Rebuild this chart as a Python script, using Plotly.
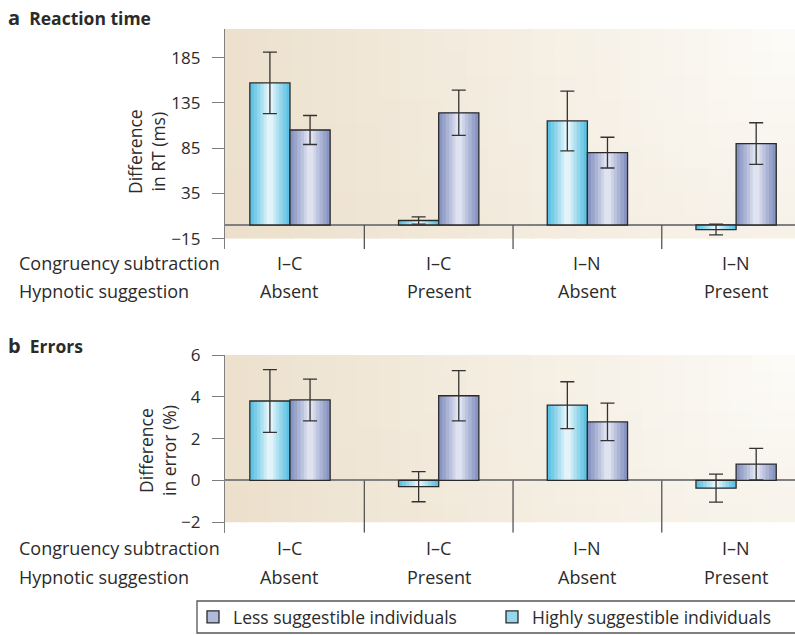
import math
import plotly.graph_objects as go

# ---------------- data ----------------
subtraction = ["I–C", "I–C", "I–N", "I–N"]
suggestion = ["Absent", "Present", "Absent", "Present"]
series_names = ["Less suggestible individuals", "Highly suggestible individuals"]

rt_highly = [157, 5, 115, -5]
rt_highly_err = [34, 4, 33, 6]
rt_less = [105, 124, 80, 90]
rt_less_err = [16, 25, 17, 23]

err_highly = [3.8, -0.3, 3.6, -0.37]
err_highly_err = [1.5, 0.72, 1.12, 0.67]
err_less = [3.85, 4.05, 2.8, 0.78]
err_less_err = [1.0, 1.2, 0.9, 0.75]

rt_ticks = [-15, 35, 85, 135, 185]
err_ticks = [-2, 0, 2, 4, 6]

# ---------------- layout helpers ----------------
W, H = 795, 635
L = 225
PW = W - L
pos = list(range(len(subtraction)))
XR = [-0.437, 3.396]
BW = 0.27

def py(p):
    return 1 - p / H

def pxp(p):
    return (p - L) / PW

FONT = "Open Sans"
TXT = "#2b2b2b"

CYAN_EDGE = (94, 194, 227)
CYAN_MID = (226, 244, 250)
PURP_EDGE = (136, 148, 194)
PURP_MID = (223, 227, 240)

def mix(a, b, t):
    return "rgb(%d,%d,%d)" % tuple(round(a[i] + (b[i] - a[i]) * t) for i in range(3))

fig = go.Figure()

panels = [
    dict(xa="x", ya="y", yrange=[-26.5, 216.6], shade_lo=-15, top_px=29, bot_px=249,
         highly=rt_highly, herr=rt_highly_err, less=rt_less, lerr=rt_less_err),
    dict(xa="x2", ya="y2", yrange=[-2.5, 6], shade_lo=-2, top_px=355, bot_px=532.7,
         highly=err_highly, herr=err_highly_err, less=err_less, lerr=err_less_err),
]

FRACS = [1.0, 0.82, 0.64, 0.47, 0.31, 0.17]

shapes = []
for pi, P in enumerate(panels):
    for vals, errs, edge, mid, side in [
        (P["highly"], P["herr"], CYAN_EDGE, CYAN_MID, -BW / 2),
        (P["less"], P["lerr"], PURP_EDGE, PURP_MID, BW / 2),
    ]:
        n = len(FRACS)
        for k, f in enumerate(FRACS):
            w = BW * f
            fig.add_trace(go.Bar(
                x=pos, y=vals, width=w, offset=side - w / 2,
                marker=dict(color=mix(edge, mid, k / (n - 1)), line=dict(width=0)),
                xaxis=P["xa"], yaxis=P["ya"], showlegend=False, hoverinfo="skip"))
        fig.add_trace(go.Bar(
            x=pos, y=vals, width=BW, offset=side - BW / 2,
            marker=dict(color="rgba(0,0,0,0)", line=dict(width=1.3, color="#2a2a2a")),
            error_y=dict(type="data", array=errs, color="#333333", thickness=1.3, width=7),
            xaxis=P["xa"], yaxis=P["ya"], showlegend=False))

    # radial background shading
    NC, NR = 26, 9
    ylo, yhi = P["shade_lo"], P["yrange"][1]
    r0, r1 = P["yrange"]
    def v2p(v):
        return P["bot_px"] - (v - r0) / (r1 - r0) * (P["bot_px"] - P["top_px"])
    cx, cy = 800, P["top_px"]
    for i in range(NC):
        for j in range(NR):
            fx0 = i / NC
            fx1 = min(1.0, (i + 1) / NC + 0.004)
            vy0 = ylo + (yhi - ylo) * j / NR
            vy1 = min(yhi, ylo + (yhi - ylo) * (j + 1) / NR + (yhi - ylo) * 0.01)
            pxc = L + (i + 0.5) / NC * PW
            pyc = v2p((vy0 + vy1) / 2)
            d = math.hypot(pxc - cx, pyc - cy)
            t = min(1.0, (d / 590) ** 0.9)
            col = mix((253, 252, 249), (236, 224, 204), t)
            shapes.append(dict(type="rect", xref=P["xa"] + " domain", yref=P["ya"],
                               x0=fx0, x1=fx1, y0=vy0, y1=vy1, fillcolor=col,
                               line=dict(width=0), layer="below"))
    # group separators
    for a, b in zip(pos[:-1], pos[1:]):
        xm = (a + b) / 2
        shapes.append(dict(type="line", xref=P["xa"], yref=P["ya"], x0=xm, x1=xm,
                           y0=0, y1=P["yrange"][0], line=dict(color="#555555", width=1.3),
                           layer="above"))

# legend entries (one legend each so they sit where the reference has them)
fig.add_trace(go.Bar(x=[None], y=[None], name=series_names[0], legend="legend",
                     marker=dict(color="rgb(178,186,218)", line=dict(width=1.3, color="#2a2a2a"))))
fig.add_trace(go.Bar(x=[None], y=[None], name=series_names[1], legend="legend2",
                     marker=dict(color="rgb(150,214,238)", line=dict(width=1.3, color="#2a2a2a"))))

# legend box
shapes.append(dict(type="rect", xref="paper", yref="paper", x0=pxp(197), x1=pxp(802),
                   y0=py(633), y1=py(601), line=dict(color="#555555", width=1.3),
                   fillcolor="rgba(0,0,0,0)", layer="above"))

annotations = []
def ann(text, x, y, xref="paper", size=18, **kw):
    d = dict(text=text, x=x, y=y, xref=xref, yref="paper", showarrow=False,
             font=dict(family=FONT, size=size, color=TXT), xanchor=kw.pop("xanchor", "center"),
             yanchor=kw.pop("yanchor", "middle"))
    d.update(kw)
    annotations.append(d)

ann("<b><span style='font-size:20px'>a</span>  Reaction time</b>", pxp(6), py(18), size=17.5, xanchor="left")
ann("<b><span style='font-size:20px'>b</span>  Errors</b>", pxp(6), py(345), size=17.5, xanchor="left")
ann("Difference<br>in RT (ms)", pxp(146), py(152), size=17.5, textangle=-90)
ann("Difference<br>in error (%)", pxp(157), py(451), size=17.5, textangle=-90)

for xa, rows in [("x", (263, 291)), ("x2", (548, 577))]:
    ann("Congruency subtraction", pxp(17), py(rows[0]), xanchor="left")
    ann("Hypnotic suggestion", pxp(17), py(rows[1]), xanchor="left")
    for p, s1, s2 in zip(pos, subtraction, suggestion):
        ann(s1, p, py(rows[0]), xref=xa)
        ann(s2, p, py(rows[1]), xref=xa)

xcommon = dict(range=XR, showticklabels=False, showline=False, showgrid=False,
               zeroline=False, ticks="", fixedrange=True, automargin=False)
ycommon = dict(showline=True, linecolor="#7f7f7f", linewidth=1.3, ticks="outside",
               ticklen=12, tickwidth=1.3, tickcolor="#7f7f7f", showgrid=False,
               zeroline=True, zerolinecolor="#808080", zerolinewidth=1.6, automargin=False,
               tickfont=dict(family=FONT, size=17, color=TXT), ticklabelstandoff=8)

legfont = dict(family=FONT, size=17.5, color=TXT)
fig.update_layout(
    width=W, height=H, margin=dict(l=L, r=0, t=0, b=0, autoexpand=False),
    paper_bgcolor="white", plot_bgcolor="rgba(0,0,0,0)",
    barmode="overlay",
    xaxis=dict(domain=[0, 1], anchor="y", **xcommon),
    xaxis2=dict(domain=[0, 1], anchor="y2", **xcommon),
    yaxis=dict(domain=[py(249), py(29)], anchor="x", range=panels[0]["yrange"],
               tickvals=rt_ticks, **ycommon),
    yaxis2=dict(domain=[py(532.7), py(355)], anchor="x2", range=panels[1]["yrange"],
                tickvals=err_ticks, **ycommon),
    shapes=shapes, annotations=annotations,
    showlegend=True,
    legend=dict(orientation="h", x=pxp(193), xanchor="left", y=py(617), yanchor="middle",
                font=legfont, bgcolor="rgba(0,0,0,0)"),
    legend2=dict(orientation="h", x=pxp(492), xanchor="left", y=py(617), yanchor="middle",
                 font=legfont, bgcolor="rgba(0,0,0,0)"),
    font=dict(family=FONT, color=TXT),
)

fig.write_html("out.html", config={"displayModeBar": False},
               post_script="document.body.style.margin='0';document.body.style.overflow='hidden';")
